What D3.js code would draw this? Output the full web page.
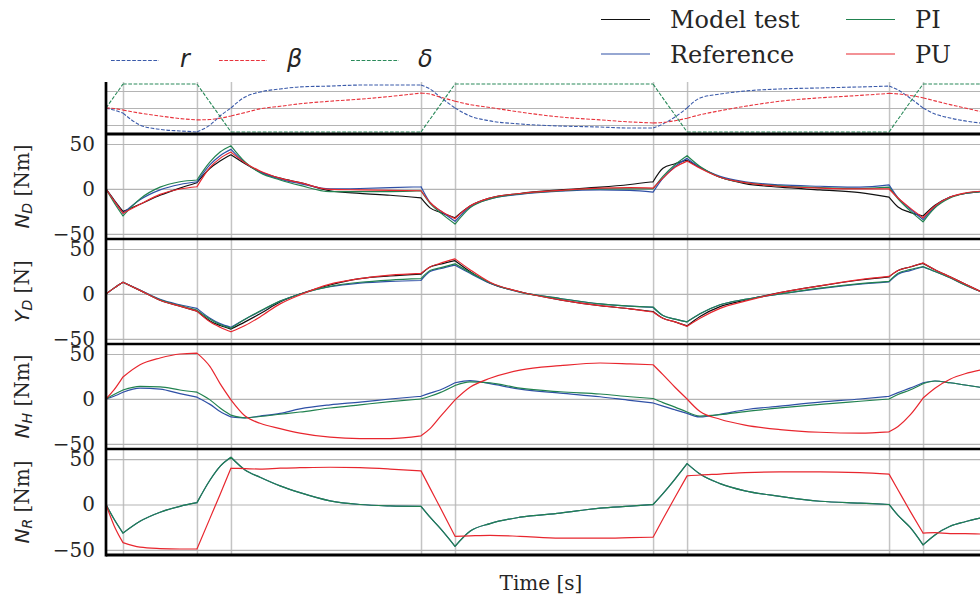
<!doctype html>
<html>
<head>
<meta charset="utf-8"/>
<title>Model test vs simulation</title>
<script src="https://d3js.org/d3.v7.min.js"></script>
<style>
  body { margin: 0; background: #fff; }
  text { white-space: pre; }
</style>
</head>
<body>
<script>
// time [s] of every sample
const time = [0, 0.47, 1.00, 2.00, 3.18, 4.35, 5.35, 6.12, 6.71, 7.35,
  8.18, 9.06, 10.24, 11.41, 13.18, 14.94, 16.71, 18.53, 19.06, 19.65,
  20.53, 21.41, 22.59, 24.35, 26.71, 29.06, 30.82, 32.18, 32.76, 33.47,
  34.18, 34.94, 36.12, 37.59, 39.65, 42.00, 44.35, 46.06, 46.59, 47.29,
  48.06, 48.76, 49.65, 50.53, 51.41];

// manoeuvre events (vertical grid)
const eventTimes = [1.00, 5.35, 7.35, 18.53, 20.53, 32.18, 34.18, 46.06, 48.06];

// top panel, normalised signals
const rSig = [0, -0.12, -0.3, -1.0, -1.26, -1.35, -1.41, -1.0, -0.47, 0,
  0.65, 0.94, 1.12, 1.24, 1.29, 1.35, 1.35, 1.35, 1.12, 0.65,
  0, -0.47, -0.76, -0.94, -1.06, -1.12, -1.18, -1.18, -0.94, -0.53,
  0, 0.59, 0.82, 1.0, 1.12, 1.18, 1.24, 1.29, 1.06, 0.59,
  0, -0.35, -0.59, -0.76, -0.88];
const betaSig = [0, -0.03, -0.12, -0.3, -0.47, -0.62, -0.7, -0.68, -0.6, -0.47,
  -0.27, -0.05, 0.1, 0.25, 0.4, 0.52, 0.68, 0.88, 0.82, 0.65,
  0.4, 0.2, 0.03, -0.24, -0.53, -0.7, -0.82, -0.88, -0.85, -0.75,
  -0.6, -0.4, -0.16, 0.1, 0.4, 0.6, 0.74, 0.86, 0.83, 0.74,
  0.6, 0.42, 0.2, 0, -0.2];
const deltaSig = [0, 0.66, 1.41, 1.41, 1.41, 1.41, 1.41, 0.33, -0.5, -1.41,
  -1.41, -1.41, -1.41, -1.41, -1.41, -1.41, -1.41, -1.41, -0.66, 0.17,
  1.41, 1.41, 1.41, 1.41, 1.41, 1.41, 1.41, 1.41, 0.58, -0.41,
  -1.41, -1.41, -1.41, -1.41, -1.41, -1.41, -1.41, -1.41, -0.66, 0.33,
  1.41, 1.41, 1.41, 1.41, 1.41];

// N_D [Nm]
const ndModel = [0, -12, -25, -17, -7, 1, 7, 23, 31, 38,
  28, 19, 12, 7, -2, -5, -7, -10, -21, -26,
  -32, -19, -10, -5, -1, 2, 5, 8, 23, 28,
  32, 24, 13, 6, 2, -1, -4, -9, -20, -26,
  -30, -18, -9, -5, -3];
const ndRef = [0, -13, -27, -12, -1, 5, 8, 27, 37, 44,
  29, 19, 11, 6, 0, 0.5, 1.5, 2.5, -15, -24,
  -36, -20, -11, -6, -2.5, -1, -1.5, -3.5, 12, 25,
  34, 24, 14, 8, 4.5, 3, 2, 4.5, -10, -22,
  -34, -20, -9, -5, -3];
const ndPI = [0, -15, -30, -11, 2, 8, 10, 30, 41, 48,
  30, 18, 10, 4, -3, -3, -3, -2, -16, -26,
  -39, -21, -11, -5.5, -2, 0, 0, 0, 14, 27,
  37, 25, 13, 7, 3.5, 1.5, 0.5, 2, -11, -24,
  -36.5, -21, -10, -5, -3];
const ndPU = [0, -13, -27, -17, -6, 0, 2.5, 24, 34, 41,
  29, 20, 12, 7, -0.5, -1, -1.5, -2, -15, -24,
  -33, -19, -10, -5, -1.5, 1, 1.5, 1, 12, 24,
  31, 23, 13, 7, 3, 1, 0, 0, -10, -21,
  -32, -19, -9, -4.5, -2.5];

// Y_D [N]
const ydModel = [0, 6.5, 13, 4, -7, -13.5, -19, -30, -35, -39,
  -31, -22, -9, 0, 10, 17, 20, 22, 30, 33,
  37, 25, 12, 2.5, -6.5, -13, -16.5, -19.5, -27, -31,
  -35.5, -25, -14, -7, 1.5, 9, 15.5, 19, 26, 30,
  34, 27, 19, 11, 3];
const ydRef = [0, 6.5, 13, 4.5, -6, -12, -16, -27, -33, -37,
  -28, -19.5, -8, 0, 8, 12, 14, 15, 25, 28,
  32, 23, 12, 2, -5, -11, -13.5, -15, -24, -28,
  -31, -22, -12, -6, 0, 6, 11, 13.5, 22, 26,
  30, 25, 18, 10, 3];
const ydPI = [0, 6.5, 13, 4, -6.5, -13, -18, -28, -34, -38,
  -28, -19, -8, 0, 8.5, 13, 15.5, 17, 26, 29,
  33.5, 24, 12.5, 2, -5, -11, -13.5, -14.5, -24, -28,
  -31, -22, -12, -6, 0, 6.5, 11.5, 14, 23, 27,
  30.5, 25, 18, 10, 3];
const ydPU = [0, 6.5, 13, 4, -7, -13.5, -19, -31, -37, -42,
  -35, -25.5, -11, -1, 11, 17, 21, 23, 30, 34,
  39, 27, 13, 2.5, -6.5, -13, -16.5, -20, -27, -31,
  -36, -27, -16, -8, 1.5, 9, 16, 19.5, 26, 30,
  34.5, 27, 19, 11, 3];

// N_H [Nm]
const nhRef = [0, 3, 7.5, 12, 11, 6, 2, -6, -14, -20,
  -21, -19, -16, -11, -6.5, -3.5, 0, 3, 6.5, 10,
  18, 20.5, 17, 11, 6.5, 2.5, -1.5, -4.5, -8, -12,
  -16, -20, -17, -12, -8, -3.5, 0, 3, 7, 12,
  18, 20, 18, 15.5, 13];
const nhPI = [0, 5, 10, 14, 13.5, 10, 7.5, -1, -10, -18,
  -21, -19.5, -17, -14.5, -10, -6.5, -3, 0, 3, 7,
  15, 19, 18, 12, 8, 5.5, 2.5, 0.5, -4, -9,
  -14.5, -19, -17.5, -14, -10, -6, -2.5, 0, 5, 10,
  17, 20, 18, 15.5, 13];
const nhPU = [0, 10, 24.5, 38, 45.5, 50, 51, 36, 17, -1,
  -19, -27, -33, -38, -42.5, -44, -44, -41, -33, -20,
  -1, 13, 23, 32, 37, 40, 39, 38, 27, 13,
  0, -14, -22.5, -29, -34, -37, -38, -36.5, -30.5, -18,
  1, 12, 22, 28, 32];

// N_R [Nm]
const nrPI = [0, -16, -31.5, -18.5, -8.5, -2, 2, 27, 42, 52,
  38, 30, 20.5, 13, 4, 0, -1.5, -2, -14, -26,
  -46, -29.5, -21, -14, -9.5, -4, -1.8, 0, 12, 28,
  45, 33.5, 23, 15, 9, 3.6, 1.5, 0, -12, -25,
  -44.5, -33.5, -24, -19, -15];
const nrRef = [0, -16, -31.5, -18.5, -8.5, -2, 2, 27, 42, 52,
  38, 30, 20.5, 13, 4, 0, -1.5, -2, -14, -26,
  -46, -29.5, -21, -14, -9.5, -4, -1.8, 0, 12, 28,
  45, 33.5, 23, 15, 9, 3.6, 1.5, 0, -12, -25,
  -44.5, -33.5, -24, -19, -15];
const nrPU = [0, -23, -42, -47, -48.5, -49, -49, -15, 11, 40,
  39.5, 39, 40, 40.5, 41, 40.5, 39, 37, 18, -3,
  -35, -34.5, -34, -35, -37, -37, -36.5, -36, -16, 8,
  31.5, 32.5, 33.5, 35, 36, 36, 35, 33.5, 16, -7,
  -31.5, -31, -32, -32, -32.5];

const yTicks = [-50, 0, 50];
const yTickLabels = ['\u221250', '0', '50'];
const topTicks = [-1, 0, 1];

const seriesNames = ['Model test', 'Reference', 'PI', 'PU'];
const colors = { 'Model test': '#111111', 'Reference': '#2f50a6', 'PI': '#21824f', 'PU': '#e8262e' };
const signalNames = ['r', '\u03b2', '\u03b4'];
const signalColors = ['#3a5aaa', '#e8333c', '#2a8a5a'];

const panels = [
  { top: 134, bottom: 239, sym: 'N', sub: 'D', unit: ' [Nm]',
    series: [['Model test', ndModel], ['Reference', ndRef], ['PI', ndPI], ['PU', ndPU]] },
  { top: 239, bottom: 344, sym: 'Y', sub: 'D', unit: ' [N]',
    series: [['Model test', ydModel], ['Reference', ydRef], ['PI', ydPI], ['PU', ydPU]] },
  { top: 344, bottom: 449, sym: 'N', sub: 'H', unit: ' [Nm]',
    series: [['Reference', nhRef], ['PI', nhPI], ['PU', nhPU]] },
  { top: 449, bottom: 555, sym: 'N', sub: 'R', unit: ' [Nm]',
    series: [['Reference', nrRef], ['PI', nrPI], ['PU', nrPU]] }
];

const W = 980, H = 596;
const left = 106, right = 980, plotTop = 82, plotBottom = 555;
const txt = '#262626';

// sample indices where the manoeuvre switches: curves are smooth in between, kinked there
const breaks = [0].concat(eventTimes.map(e => time.indexOf(e)), [time.length - 1]);

const svg = d3.select('body').append('svg').attr('width', W).attr('height', H);

const x = d3.scaleLinear().domain([0, 51.41]).range([left, right]);

function piecewise(vals, y) {
  const seg = d3.line().curve(d3.curveMonotoneX)
    .x(i => x(time[i])).y(i => y(vals[i]));
  let d = '';
  for (let k = 0; k < breaks.length - 1; k++) {
    d += seg(d3.range(breaks[k], breaks[k + 1] + 1));
  }
  return d;
}

// vertical grid at the events, through all panels
svg.append('g')
  .attr('transform', `translate(0,${plotBottom})`)
  .call(d3.axisBottom(x).tickValues(eventTimes).tickSize(-(plotBottom - plotTop)).tickFormat(''))
  .call(g => g.select('.domain').remove())
  .call(g => g.selectAll('line').attr('stroke', '#c4c4c4').attr('stroke-width', 1.5));

// ---- top panel: r, beta, delta
const yTop = d3.scaleLinear().domain([-1.53, 1.53]).range([134, plotTop]);

svg.append('g')
  .attr('transform', `translate(${left},0)`)
  .call(d3.axisLeft(yTop).tickValues(topTicks).tickSize(-(right - left)).tickFormat(''))
  .call(g => g.select('.domain').remove())
  .call(g => g.selectAll('line').attr('stroke', '#b4b4b4').attr('stroke-width', 1.2));

[rSig, betaSig, deltaSig].forEach((s, k) => {
  svg.append('path')
    .attr('d', piecewise(s, yTop))
    .attr('fill', 'none')
    .attr('stroke', signalColors[k])
    .attr('stroke-width', 1.1)
    .attr('stroke-dasharray', '3.7,1.6');
});

svg.append('line').attr('x1', left).attr('x2', right).attr('y1', 134).attr('y2', 134)
  .attr('stroke', '#000').attr('stroke-width', 3);

// ---- force / moment panels
panels.forEach(p => {
  const y = d3.scaleLinear().domain([-55.6, 61.1]).range([p.bottom, p.top]);

  svg.append('g')
    .attr('transform', `translate(${left},0)`)
    .call(d3.axisLeft(y).tickValues(yTicks).tickSize(-(right - left)).tickFormat(''))
    .call(g => g.select('.domain').remove())
    .call(g => g.selectAll('line').attr('stroke', '#b4b4b4').attr('stroke-width', 1.2));

  // tick labels
  svg.append('g')
    .attr('transform', `translate(${left},0)`)
    .call(d3.axisLeft(y).tickValues(yTicks).tickSize(0).tickPadding(11)
      .tickFormat((d, i) => yTickLabels[i]))
    .call(g => g.select('.domain').remove())
    .call(g => g.selectAll('text')
      .style('font-family', 'DejaVu Serif').style('font-size', '20px').attr('fill', txt));

  p.series.forEach(([name, vals]) => {
    svg.append('path')
      .attr('d', piecewise(vals, y))
      .attr('fill', 'none')
      .attr('stroke', colors[name])
      .attr('stroke-width', 1.2)
      .attr('stroke-linecap', 'round');
  });

  svg.append('line').attr('x1', left).attr('x2', right).attr('y1', p.bottom).attr('y2', p.bottom)
    .attr('stroke', '#000').attr('stroke-width', p.bottom === plotBottom ? 3 : 2.5);

  const lab = svg.append('text')
    .attr('transform', `translate(29,${(p.top + p.bottom) / 2}) rotate(-90)`)
    .attr('text-anchor', 'middle')
    .attr('fill', txt)
    .style('font-size', '20px');
  lab.append('tspan').style('font-family', 'DejaVu Sans').style('font-style', 'italic').text(p.sym);
  lab.append('tspan').style('font-family', 'DejaVu Sans').style('font-style', 'italic')
    .style('font-size', '14px').attr('dy', 3).text(p.sub);
  lab.append('tspan').style('font-family', 'DejaVu Serif').attr('dy', -3).text(p.unit);
});

// left spine
svg.append('line').attr('x1', left).attr('x2', left).attr('y1', plotTop).attr('y2', plotBottom + 1.5)
  .attr('stroke', '#000').attr('stroke-width', 2.7);

// x label
svg.append('text')
  .attr('x', (left + right) / 2 - 2).attr('y', 590)
  .attr('text-anchor', 'middle')
  .attr('fill', txt)
  .style('font-family', 'DejaVu Serif').style('font-size', '20px')
  .text('Time [s]');

// ---- legend for r, beta, delta (top left)
const sigLegX = [111, 219, 351];
const sigTextX = [180, 287, 418];
signalNames.forEach((n, k) => {
  svg.append('line')
    .attr('x1', sigLegX[k]).attr('x2', sigLegX[k] + 48).attr('y1', 60.5).attr('y2', 60.5)
    .attr('stroke', signalColors[k]).attr('stroke-width', 1.1).attr('stroke-dasharray', '3.7,1.6');
  svg.append('text')
    .attr('x', sigTextX[k]).attr('y', 67)
    .attr('fill', txt)
    .style('font-family', 'DejaVu Sans').style('font-style', 'italic').style('font-size', '24px')
    .text(n);
});

// ---- legend for the series (top right)
const legColX = [601, 846];
const legRowY = [19.5, 54];
seriesNames.forEach((n, k) => {
  const cx = legColX[Math.floor(k / 2)];
  const cy = legRowY[k % 2];
  svg.append('line')
    .attr('x1', cx).attr('x2', cx + 49).attr('y1', cy).attr('y2', cy)
    .attr('stroke', colors[n]).attr('stroke-width', 1.2);
  svg.append('text')
    .attr('x', cx + 69).attr('y', cy + 8.5)
    .attr('fill', txt)
    .style('font-family', 'DejaVu Serif').style('font-size', '24px')
    .text(n);
});
</script>
</body>
</html>
